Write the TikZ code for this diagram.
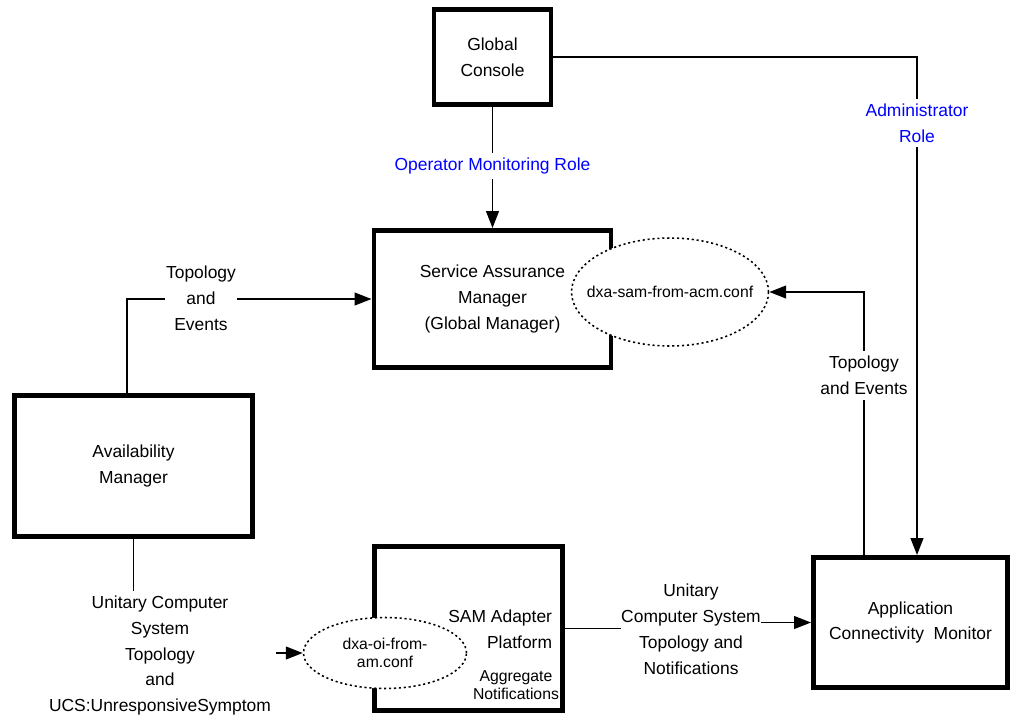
\documentclass[tikz,border=0pt]{standalone}
\usepackage{fontspec}
\setmainfont{Liberation Sans}
\usetikzlibrary{arrows.meta,shapes.geometric}

\newcommand*{\pxu}{0.025cm}
\newcommand*{\picw}{1012}
\newcommand*{\pich}{717}

\begin{document}
\begin{tikzpicture}
[
	x=\pxu, y=-\pxu,
	txt/.style={align=center,font=\fontsize{12.4}{18.4}\selectfont},
	smalltxt/.style={align=center,font=\fontsize{11.2}{13.2}\selectfont},
	box/.style={txt,draw,rectangle,line width=3.5pt,inner sep=0pt},
	conffile/.style={draw,ellipse,fill=white,line width=1.1pt,dash pattern=on 1.5pt off 2pt,inner sep=0pt},
	flowlbl/.style={txt,fill=white,inner xsep=0.5pt},
	rolelbl/.style={flowlbl,text=blue},
	link/.style={line width=1.4pt},
	linkarr/.style={link,-{Triangle[length=12pt,width=9pt]}}
]

	\useasboundingbox (0,0) rectangle (\picw,\pich);

	% boxes
	\node[box,minimum width=117*\pxu,minimum height=95*\pxu] (gc) at (492.5,57) {Global\\Console};
	\node[box,minimum width=237*\pxu,minimum height=137*\pxu] (sam) at (492.5,299) {Service Assurance\\Manager\\(Global Manager)};
	\node[box,minimum width=238*\pxu,minimum height=141*\pxu] (am) at (133.5,466) {Availability\\Manager};
	\node[box,minimum width=188*\pxu,minimum height=164*\pxu] (sap) at (468.5,628.5) {};
	\node[box,minimum width=194*\pxu,minimum height=130*\pxu] (acm) at (910.5,622.5) {Application\\Connectivity~~Monitor};
	\node[txt,anchor=east,align=right] (saptxt) at (557,629) {SAM Adapter\\Platform};
	\node[smalltxt] (aggtxt) at (516,685) {Aggregate\\Notifications};

	% config files
	\node[conffile,minimum width=197*\pxu,minimum height=108*\pxu] (samconf) at (670,292) {};
	\node[smalltxt] (samconftxt) at (samconf) {dxa-sam-from-acm.conf};
	\node[conffile,minimum width=163*\pxu,minimum height=71*\pxu] (oiconf) at (385,653) {};
	\node[smalltxt] (oiconftxt) at (oiconf) {dxa-oi-from-\\am.conf};

	% roles
	\draw[linkarr] (gc.south) -- (sam.north) node[rolelbl,pos=0.49] (oprole) {Operator Monitoring Role};
	\coordinate (admcorner) at (917,57);
	\draw[linkarr] (gc.east) -- (admcorner) -- (admcorner |- acm.north);
	\node[rolelbl] (admrole) at (917,123) {Administrator\\Role};

	% topology and events
	\coordinate (amcorner) at (127,299);
	\draw[linkarr] (am.north -| amcorner) -- (amcorner) -- (sam.west);
	\node[flowlbl] (amtopo) at (201,298) {Topology\\and\\Events};
	\coordinate (acmcorner) at (864,292);
	\draw[linkarr] (acm.north -| acmcorner) -- (acmcorner) -- (samconf.east);
	\node[flowlbl] (acmtopo) at (864,375.5) {Topology\\and Events};

	% unitary computer system
	\node[txt] (ucs) at (160,655.5) {Unitary Computer\\System\\Topology\\and\\UCS:UnresponsiveSymptom};
	\draw[link] (am.south) -- (am.south |- ucs.north);
	\draw[linkarr] (ucs.east |- oiconf.west) -- (oiconf.west);
	\node[txt,inner xsep=0pt] (ucsnotif) at (691,629) {Unitary\\Computer System\\Topology and\\Notifications};
	\draw[link] (sap.east) -- (sap.east -| ucsnotif.west);
	\draw[linkarr] (ucsnotif.east |- acm.west) -- (acm.west);

\end{tikzpicture}
\end{document}
